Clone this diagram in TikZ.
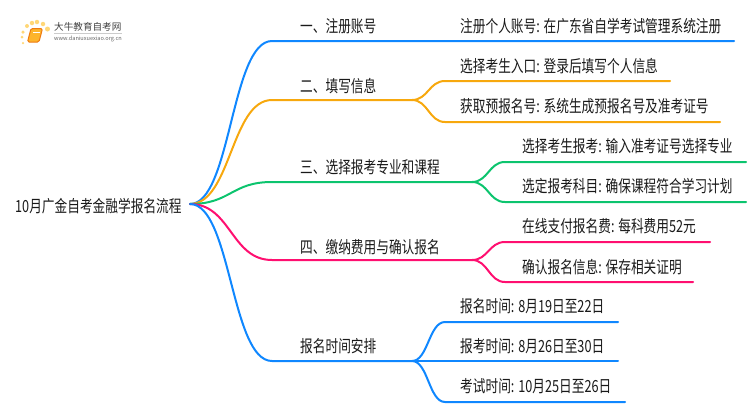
\documentclass[tikz,border=0pt]{standalone}
\usepackage{xcolor}
\usepackage{fontspec}
\setmainfont[FakeStretch=0.76]{Noto Sans CJK SC}
\newfontfamily\logofont{Noto Sans CJK SC}
\usepackage{tikz}
\usetikzlibrary{calc}
\definecolor{linkblue}{HTML}{0F87FF}
\definecolor{linkorange}{HTML}{F7A80D}
\definecolor{linkgreen}{HTML}{0CC46E}
\definecolor{linkpink}{HTML}{FF0F70}
\definecolor{booklight}{HTML}{FDB52C}
\definecolor{bookdark}{HTML}{EE7A10}
\definecolor{dotyellow}{HTML}{FFD777}

\begin{document}
\begin{tikzpicture}[x=1pt, y=-1pt,
	link/.style={line width=2pt, line cap=round},
	label/.style={anchor=west, inner sep=0pt, text=black!90, font=\fontsize{16.7}{18}\selectfont},
	logodot/.style={circle, fill=dotyellow, inner sep=0pt}]
	\useasboundingbox (0,0) rectangle (750,410);

	\coordinate (root) at (190,204);
	\node[label] (title) at (15,206) {10月广金自考金融学报名流程};

	%% logo
	\node[logodot, minimum size=2.5pt] (dot1) at (23,43) {};
	\node[logodot, minimum size=3pt] (dot2) at (22,37) {};
	\node[logodot, minimum size=3.5pt] (dot3) at (23,32) {};
	\node[logodot, minimum size=4pt] (dot4) at (27,26) {};
	\node[logodot, minimum size=4.5pt] (dot5) at (32,23) {};
	\node[logodot, minimum size=4.5pt] (dot6) at (37,22) {};
	\node[logodot, minimum size=4.5pt] (dot7) at (43,24) {};
	\node[logodot, minimum size=5pt] (dot8) at (47.5,29) {};
	\filldraw[draw=bookdark, fill=booklight, rounded corners=1.5pt, line width=1pt] (31,28.5) -- (42.5,28.5) -- (39,42) -- (27.5,42) -- cycle;
	\draw[white, line width=0.8pt] (33,32) -- (39.5,32);
	\node[inner sep=0pt, anchor=west, text=black!75, font=\logofont\fontsize{9.6}{10}\selectfont] (logotitle) at (54,27) {大牛教育自考网};
	\node[inner sep=0pt, anchor=west, text=black!60, font=\logofont\fontsize{5.6}{6}\selectfont] (logourl) at (54,39) {www.daniuxuexiao.org.cn};
	\draw[black!20, line width=0.5pt] (54,33.3) -- (122,33.3);

	%% branch 1
	\coordinate (a) at (272,41);
	\coordinate (a1) at (734,41);
	\draw[link, linkblue] (root) .. controls +(41,0) and +(-41,0) .. (a) -- (a1);
	\node[label] (atext) at (300,26) {一、注册账号};
	\node[label] (a1text) at (460,26) {注册个人账号: 在广东省自学考试管理系统注册};

	%% branch 2
	\coordinate (b) at (272,100);
	\coordinate (bfork) at (412,100);
	\coordinate (b1) at (445,81);
	\coordinate (b1end) at (670,81);
	\coordinate (b2) at (445,122);
	\coordinate (b2end) at (720,122);
	\draw[link, linkorange] (root) .. controls +(41,0) and +(-41,0) .. (b) -- (bfork);
	\draw[link, linkorange] (bfork) .. controls +(16,0) and +(-16,0) .. (b1) -- (b1end);
	\draw[link, linkorange] (bfork) .. controls +(16,0) and +(-16,0) .. (b2) -- (b2end);
	\node[label] (btext) at (300,86) {二、填写信息};
	\node[label] (b1text) at (460,66) {选择考生入口: 登录后填写个人信息};
	\node[label] (b2text) at (460,106) {获取预报名号: 系统生成预报名号及准考证号};

	%% branch 3
	\coordinate (c) at (272,182);
	\coordinate (cfork) at (472,182);
	\coordinate (c1) at (505,162);
	\coordinate (c1end) at (746,162);
	\coordinate (c2) at (505,202);
	\coordinate (c2end) at (746,202);
	\draw[link, linkgreen] (root) .. controls +(41,0) and +(-41,0) .. (c) -- (cfork);
	\draw[link, linkgreen] (cfork) .. controls +(16,0) and +(-16,0) .. (c1) -- (c1end);
	\draw[link, linkgreen] (cfork) .. controls +(16,0) and +(-16,0) .. (c2) -- (c2end);
	\node[label] (ctext) at (300,167) {三、选择报考专业和课程};
	\node[label] (c1text) at (522,146) {选择考生报考: 输入准考证号选择专业};
	\node[label] (c2text) at (522,186) {选定报考科目: 确保课程符合学习计划};

	%% branch 4
	\coordinate (d) at (272,260);
	\coordinate (dfork) at (472,260);
	\coordinate (d1) at (505,242);
	\coordinate (d1end) at (710,242);
	\coordinate (d2) at (505,282);
	\coordinate (d2end) at (693,282);
	\draw[link, linkpink] (root) .. controls +(41,0) and +(-41,0) .. (d) -- (dfork);
	\draw[link, linkpink] (dfork) .. controls +(16,0) and +(-16,0) .. (d1) -- (d1end);
	\draw[link, linkpink] (dfork) .. controls +(16,0) and +(-16,0) .. (d2) -- (d2end);
	\node[label] (dtext) at (300,247) {四、缴纳费用与确认报名};
	\node[label] (d1text) at (522,226) {在线支付报名费: 每科费用52元};
	\node[label] (d2text) at (522,267) {确认报名信息: 保存相关证明};

	%% branch 5
	\coordinate (e) at (272,361);
	\coordinate (efork) at (412,361);
	\coordinate (e1) at (445,322);
	\coordinate (e1end) at (618,322);
	\coordinate (e2end) at (618,361);
	\coordinate (e3) at (445,402);
	\coordinate (e3end) at (625,402);
	\draw[link, linkblue] (root) .. controls +(41,0) and +(-41,0) .. (e) -- (efork);
	\draw[link, linkblue] (efork) .. controls +(16,0) and +(-16,0) .. (e1) -- (e1end);
	\draw[link, linkblue] (efork) -- (e2end);
	\draw[link, linkblue] (efork) .. controls +(16,0) and +(-16,0) .. (e3) -- (e3end);
	\node[label] (etext) at (300,346) {报名时间安排};
	\node[label] (e1text) at (460,306) {报名时间: 8月19日至22日};
	\node[label] (e2text) at (460,346) {报考时间: 8月26日至30日};
	\node[label] (e3text) at (460,386) {考试时间: 10月25日至26日};
\end{tikzpicture}
\end{document}
